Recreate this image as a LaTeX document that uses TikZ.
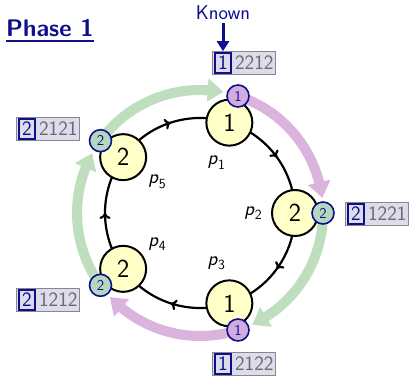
\documentclass[tikz,border=0pt]{standalone}
\usetikzlibrary{arrows.meta,decorations.markings,calc,bending}
\definecolor{navy}{RGB}{15,15,140}
\definecolor{nodefill}{RGB}{255,255,200}
\definecolor{greenarr}{RGB}{190,222,190}
\definecolor{purparr}{RGB}{218,180,220}
\definecolor{greendot}{RGB}{180,216,190}
\definecolor{purpdot}{RGB}{210,172,222}
\definecolor{lblfill}{RGB}{220,220,234}
\definecolor{lblborder}{RGB}{135,135,145}
\definecolor{lbltext}{RGB}{105,105,110}
% state label: first digit framed in navy, the rest in grey
\newcommand\statelbl[2]{{\fboxsep=2.2pt\fboxrule=1.6pt\fcolorbox{navy}{lblfill}{\textcolor{navy}{#1}}}\,#2}
\newcommand\pname[1]{\textit{p}\raisebox{-4.5pt}{\fontsize{14}{14}\selectfont #1}}
\begin{document}
\begin{tikzpicture}[x=1pt,y=1pt,font=\sffamily,
  ringedge/.style={line width=2.2pt, postaction={decorate},
    decoration={markings, mark=at position 0.5 with {\arrow{To[length=6pt,width=11pt]}}}},
  proc/.style={circle, draw=black, line width=2pt, fill=nodefill, minimum size=46pt,
    inner sep=0pt, font=\sffamily\fontsize{26}{26}\selectfont},
  dot/.style={circle, draw=navy, line width=1.6pt, minimum size=22pt, inner sep=0pt,
    text=navy, font=\sffamily\fontsize{15}{15}\selectfont},
  greendot/.style={dot, fill=greendot},
  purpdot/.style={dot, fill=purpdot},
  lbl/.style={draw=lblborder, line width=1pt, fill=lblfill, text=lbltext,
    inner xsep=1.5pt, inner ysep=0.6pt, font=\sffamily\fontsize{20.5}{20.5}\selectfont},
  plbl/.style={font=\sffamily\fontsize{20}{20}\selectfont},
  flow/.style={line width=10pt, -{Triangle[width=22pt,length=16pt,bend]}},
]
\useasboundingbox (0,0) rectangle (409,379);
\coordinate (c) at (200,166);
\foreach \i/\a in {1/72,2/0,3/-72,4/-144,5/144}
  \coordinate (v\i) at ($(c)+(\a:95)$);

% the ring, oriented clockwise
\draw[ringedge] (v1) arc[start angle=72,  end angle=0,   radius=95];
\draw[ringedge] (v2) arc[start angle=360, end angle=288, radius=95];
\draw[ringedge] (v3) arc[start angle=288, end angle=216, radius=95];
\draw[ringedge] (v4) arc[start angle=216, end angle=144, radius=95];
\draw[ringedge] (v5) arc[start angle=144, end angle=72,  radius=95];

% message dots on the outer track
\foreach \i/\a in {1/72,2/0,3/-72,4/-144,5/144}
  \coordinate (w\i) at ($(c)+(\a:123)$);

% messages passed around the outer track
\draw[flow, purparr]  (w1) arc[start angle=72,   end angle=7,    radius=123];
\draw[flow, greenarr] (w2) arc[start angle=0,    end angle=-65,  radius=123];
\draw[flow, purparr]  (w3) arc[start angle=-72,  end angle=-137, radius=123];
\draw[flow, greenarr] (w4) arc[start angle=-144, end angle=-209, radius=123];
\draw[flow, greenarr] (w5) arc[start angle=144,  end angle=79,   radius=123];

% processes
\node[proc] (n1) at (v1) {1};
\node[proc] (n2) at (v2) {2};
\node[proc] (n3) at (v3) {1};
\node[proc] (n4) at (v4) {2};
\node[proc] (n5) at (v5) {2};

\node[purpdot]  (s1) at (w1) {1};
\node[greendot] (s2) at (w2) {2};
\node[purpdot]  (s3) at (w3) {1};
\node[greendot] (s4) at (w4) {2};
\node[greendot] (s5) at (w5) {2};

% process names
\node[plbl] (p1) at ($(c)+(72:53)$)   {\pname{1}};
\node[plbl] (p2) at ($(c)+(0:53)$)    {\pname{2}};
\node[plbl] (p3) at ($(c)+(-72:53)$)  {\pname{3}};
\node[plbl] (p4) at ($(c)+(-144:53)$) {\pname{4}};
\node[plbl] (p5) at ($(c)+(144:53)$)  {\pname{5}};

% state labels
\node[lbl] (l1) at (244,316) {\statelbl{1}{2212}};
\node[lbl] (l2) at (377,165) {\statelbl{2}{1221}};
\node[lbl] (l3) at (244,15)  {\statelbl{1}{2122}};
\node[lbl] (l4) at (48,79)   {\statelbl{2}{1212}};
\node[lbl] (l5) at (48,250)  {\statelbl{2}{2121}};

% title
\node[anchor=base west, inner sep=0pt, text=navy,
  font=\sffamily\bfseries\fontsize{24}{24}\selectfont] (ph) at (6,342) {Phase 1};
\draw[navy, line width=1.3pt] ([yshift=-4pt]ph.base west) -- ([yshift=-4pt]ph.base east);

% known marker
\node[anchor=base, inner sep=0pt, text=navy,
  font=\sffamily\fontsize{20}{20}\selectfont] (known) at (223,359) {Known};
\draw[navy, line width=3pt, -{Triangle[width=12pt,length=10pt]}]
  ([yshift=-3pt]known.south) -- (known.south |- l1.north);
\end{tikzpicture}
\end{document}
